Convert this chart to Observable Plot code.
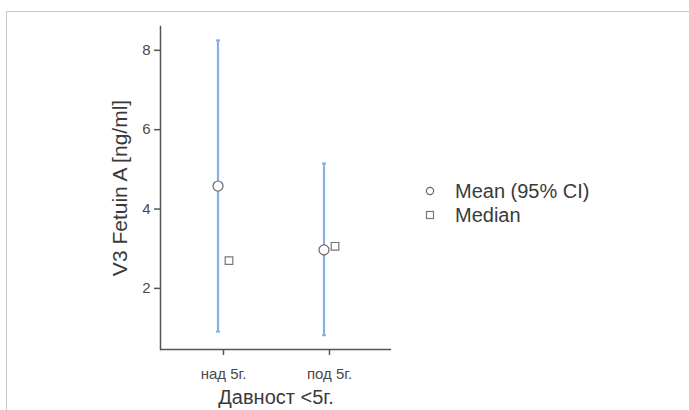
<!DOCTYPE html>
<html>
<head>
<meta charset="utf-8">
<script src="https://cdn.jsdelivr.net/npm/d3@7"></script>
<script src="https://cdn.jsdelivr.net/npm/@observablehq/plot@0.6"></script>
<style>
  html, body { margin: 0; padding: 0; background: #fff; }
  #wrap { position: relative; width: 689px; height: 410px; overflow: hidden; font-family: "Liberation Sans", Arial, sans-serif; }
  #border { position: absolute; left: 6px; top: 11px; right: -2px; bottom: -2px; border-left: 1px solid #c8c8c8; border-top: 1px solid #c8c8c8; }
  #chart { position: absolute; left: 0; top: 0; }
  #legend { position: absolute; left: 424px; top: 179px; font-size: 20px; color: #3a3a3a; line-height: 24px; }
  #legend .row { display: flex; align-items: center; }
  #legend svg { margin-right: 19px; }
</style>
</head>
<body>
<div id="wrap">
  <div id="border"></div>
  <div id="chart"></div>
  <div id="legend"></div>
</div>
<script>
const groups = ["над 5г.", "под 5г."];
const means = [4.58, 2.97];
const ciLow = [0.91, 0.82];
const ciHigh = [8.25, 5.15];
const medians = [2.70, 3.06];
const yTicks = [2, 4, 6, 8];
const yLabel = "V3 Fetuin A [ng/ml]";
const xLabel = "Давност <5г.";
const legendLabels = ["Mean (95% CI)", "Median"];

const rows = groups.map((g, i) => ({group: g, mean: means[i], lo: ciLow[i], hi: ciHigh[i], median: medians[i]}));
const capSymbol = {draw(ctx) { ctx.moveTo(-2, 0); ctx.lineTo(2, 0); }};
const barColor = "#8aaee6";
const yMin = 0.46;

const chart = Plot.plot({
  width: 689,
  height: 410,
  marginLeft: 160,
  marginRight: 298,
  marginTop: 26,
  marginBottom: 61,
  style: {fontFamily: "'Liberation Sans', Arial, sans-serif", fontSize: "15px", color: "#4a4a4a", background: "transparent"},
  x: {type: "point", domain: groups, padding: 0.58, label: null},
  y: {domain: [yMin, 8.6], label: null},
  marks: [
    Plot.frame({anchor: "left", stroke: "#555", strokeWidth: 1.5}),
    Plot.ruleY([yMin], {stroke: "#555", strokeWidth: 1.5}),
    Plot.axisY({ticks: yTicks, tickSize: 6, tickPadding: 4, label: null, stroke: "#555", strokeWidth: 1.5, fontSize: 15}),
    Plot.axisX({tickSize: 6, tickPadding: 13, label: null, stroke: "#555", strokeWidth: 1.5, fontSize: 15}),
    Plot.ruleX(rows, {x: "group", y1: "lo", y2: "hi", dx: -5.5, stroke: barColor, strokeWidth: 2.2}),
    Plot.dot(rows, {x: "group", y: "lo", dx: -5.5, symbol: capSymbol, stroke: barColor, strokeWidth: 2}),
    Plot.dot(rows, {x: "group", y: "hi", dx: -5.5, symbol: capSymbol, stroke: barColor, strokeWidth: 2}),
    Plot.dot(rows, {x: "group", y: "mean", dx: -5.5, r: 5, fill: "white", stroke: "#666", strokeWidth: 1.2}),
    Plot.dot(rows, {x: "group", y: "median", dx: 5.5, symbol: "square", r: 4.3, fill: "white", stroke: "#777", strokeWidth: 1.2}),
    Plot.text([yLabel], {frameAnchor: "left", textAnchor: "middle", dx: -40, rotate: -90, fontSize: 21, fill: "#3a3a3a"}),
    Plot.text([xLabel], {frameAnchor: "bottom", textAnchor: "middle", dy: 54, fontSize: 20, fill: "#3a3a3a"})
  ]
});
document.getElementById("chart").appendChild(chart);

const legend = d3.select("#legend");
const r1 = legend.append("div").attr("class", "row");
const s1 = r1.append("svg").attr("width", 12).attr("height", 12);
s1.append("circle").attr("cx", 6).attr("cy", 6).attr("r", 3.6).attr("fill", "white").attr("stroke", "#666").attr("stroke-width", 1.2);
r1.append("span").text(legendLabels[0]);
const r2 = legend.append("div").attr("class", "row");
const s2 = r2.append("svg").attr("width", 12).attr("height", 12);
s2.append("rect").attr("x", 2.5).attr("y", 2.5).attr("width", 7).attr("height", 7).attr("fill", "white").attr("stroke", "#777").attr("stroke-width", 1.2);
r2.append("span").text(legendLabels[1]);
</script>
</body>
</html>
